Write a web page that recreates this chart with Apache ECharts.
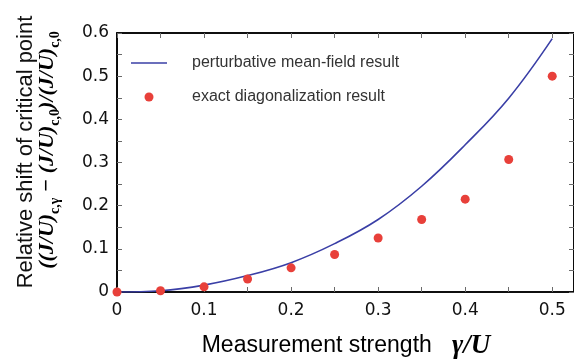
<!DOCTYPE html>
<html>
<head>
<meta charset="utf-8">
<script src="https://cdn.jsdelivr.net/npm/echarts@6/dist/echarts.min.js"></script>
<style>html,body{margin:0;padding:0;background:#fff}#c{width:574px;height:360px}</style>
</head>
<body>
<div id="c"></div>
<script>
// Data
const gammaValues = [0, 0.05, 0.1, 0.15, 0.2, 0.25, 0.3, 0.35, 0.4, 0.45, 0.5];
const meanFieldShift = [0, 0.003, 0.016, 0.038, 0.068, 0.112, 0.168, 0.245, 0.341, 0.449, 0.587];
const exactDiagShift = [0, 0.003, 0.012, 0.030, 0.056, 0.087, 0.125, 0.168, 0.215, 0.307, 0.500];
const seriesNames = ['perturbative mean-field result', 'exact diagonalization result'];
const xTickLabels = ['0', '0.1', '0.2', '0.3', '0.4', '0.5'];
const yTickLabels = ['0', '0.1', '0.2', '0.3', '0.4', '0.5', '0.6'];

const chart = echarts.init(document.getElementById('c'), null, {renderer: 'canvas'});

function pick(labels, v) {
  const k = Math.round(v * 100);
  if (k % 10 !== 0 || Math.abs(v * 100 - k) > 1e-6) return '';
  const idx = k / 10;
  return labels[idx] !== undefined ? labels[idx] : '';
}

function ticks() { return {show: true, inside: true, length: 5, lineStyle: {color: '#6a6a6a', width: 1}}; }
function line() { return {show: true, onZero: false, lineStyle: {color: '#000', width: 1.6}}; }

const mathFont = '"Liberation Serif", "DejaVu Serif", serif';
const textFont = '"Liberation Sans", Arial, sans-serif';

const option = {
  animation: false,
  backgroundColor: '#fff',
  grid: {left: 117, right: 0, top: 33, bottom: 68, containLabel: false, show: true, borderColor: '#000', borderWidth: 1.6, backgroundColor: 'transparent'},
  legend: {
    orient: 'vertical',
    left: 131,
    top: 55,
    padding: 0,
    itemWidth: 36,
    itemHeight: 9,
    itemGap: 18,
    textStyle: {fontFamily: textFont, fontSize: 16, color: '#333', padding: [0, 0, 0, 20]},
    data: [
      {name: seriesNames[0], icon: 'path://M0,3.8 L36,3.8 L36,5.2 L0,5.2 Z', itemStyle: {color: '#3a3fa6'}},
      {name: seriesNames[1], icon: 'circle', itemStyle: {color: '#e8403a', opacity: 1}}
    ]
  },
  xAxis: [
    {
      type: 'value', gridIndex: 0, position: 'bottom', min: 0, max: 0.525, interval: 0.05,
      axisLine: line(), axisTick: ticks(), splitLine: {show: false},
      axisLabel: {show: true, formatter: v => pick(xTickLabels, v), margin: 10, fontFamily: '"DejaVu Sans", sans-serif', fontSize: 17, color: '#111', showMaxLabel: false}
    },
    {
      type: 'value', gridIndex: 0, position: 'top', min: 0, max: 0.525, interval: 0.05,
      axisLine: line(), axisTick: ticks(), splitLine: {show: false},
      axisLabel: {show: false}
    }
  ],
  yAxis: [
    {
      type: 'value', gridIndex: 0, position: 'left', min: 0, max: 0.6, interval: 0.05,
      axisLine: line(), axisTick: ticks(), splitLine: {show: false},
      axisLabel: {show: true, formatter: v => pick(yTickLabels, v), margin: 8, fontFamily: '"DejaVu Sans", sans-serif', fontSize: 17, color: '#111'}
    },
    {
      type: 'value', gridIndex: 0, position: 'right', min: 0, max: 0.6, interval: 0.05,
      axisLine: line(), axisTick: ticks(), splitLine: {show: false},
      axisLabel: {show: false}
    }
  ],
  series: [
    {
      name: seriesNames[0],
      type: 'line',
      xAxisIndex: 0, yAxisIndex: 0,
      data: gammaValues.map((g, i) => [g, meanFieldShift[i]]),
      smooth: 0.4,
      showSymbol: false,
      symbol: 'none',
      lineStyle: {color: '#3a3fa6', width: 1.6},
      itemStyle: {color: '#3a3fa6'},
      z: 2
    },
    {
      name: seriesNames[1],
      type: 'scatter',
      xAxisIndex: 0, yAxisIndex: 0,
      data: gammaValues.map((g, i) => [g, exactDiagShift[i]]),
      symbol: 'circle',
      symbolSize: 9,
      itemStyle: {color: '#e8403a', opacity: 1},
      z: 3
    }
  ],
  graphic: [
    {
      type: 'text',
      x: 26, y: 152,
      rotation: Math.PI / 2,
      style: {
        text: 'Relative shift of critical point',
        font: '22px ' + textFont,
        fill: '#111',
        align: 'center',
        verticalAlign: 'middle'
      }
    },
    {
      type: 'text',
      x: 47, y: 150,
      rotation: Math.PI / 2,
      style: {
        text: '{m|((J/U)}{s|c,γ}{m| − (J/U)}{s|c,0}{m|)/(J/U)}{s|c,0}',
        align: 'center',
        verticalAlign: 'middle',
        rich: {
          m: {fontFamily: mathFont, fontSize: 22, fontWeight: 'bold', fontStyle: 'italic', color: '#111', lineHeight: 30, verticalAlign: 'middle'},
          s: {fontFamily: mathFont, fontSize: 14, fontWeight: 'bold', color: '#111', lineHeight: 14, verticalAlign: 'bottom'}
        }
      }
    },
    {
      type: 'text',
      x: 346, y: 346,
      style: {
        text: '{t|Measurement strength}{g|   γ/U}',
        align: 'center',
        verticalAlign: 'middle',
        rich: {
          t: {fontFamily: textFont, fontSize: 23, color: '#111'},
          g: {fontFamily: mathFont, fontSize: 27, fontWeight: 'bold', fontStyle: 'italic', color: '#111'}
        }
      }
    }
  ]
};
chart.setOption(option);
</script>
</body>
</html>
